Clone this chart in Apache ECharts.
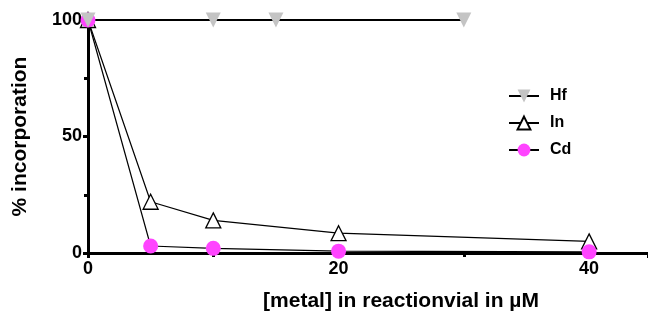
<!DOCTYPE html>
<html><head><meta charset="utf-8">
<script src="https://cdn.jsdelivr.net/npm/echarts@6/dist/echarts.min.js"></script>
<style>html,body{margin:0;padding:0;background:#fff}#c{width:648px;height:320px}</style>
</head><body><div id="c"></div>
<script>
const hfX = [0, 10, 15, 30];
const hfY = [100, 100, 100, 100];
const inX = [0, 5, 10, 20, 40];
const inY = [100, 22, 14, 8.5, 5];
const cdX = [0, 5, 10, 20, 40];
const cdY = [100, 3, 2, 0.8, 0.5];
const xTicks = [0, 20, 40];
const yTicks = [0, 50, 100];
const pair = (xs, ys) => xs.map((x, i) => [x, ys[i]]);
const F = 'Liberation Sans, Arial, sans-serif';
const chart = echarts.init(document.getElementById('c'));
chart.setOption({
  animation: false,
  grid: {left: 88, right: 0, top: 20, bottom: 67, containLabel: false, outerBoundsMode: 'none'},
  legend: {
    data: ['Hf', 'In', 'Cd'], left: 503, top: 83, orient: 'vertical', itemGap: 11,
    itemWidth: 30, itemHeight: 16,
    textStyle: {fontFamily: F, fontWeight: 'bold', fontSize: 16, color: '#000', padding: [0, 0, 0, 6]}
  },
  xAxis: {
    type: 'value', min: 0, max: 44.7, interval: 20,
    axisLine: {lineStyle: {color: '#000', width: 3}},
    axisTick: {length: 5, lineStyle: {width: 3, color: '#000'}},
    minorTick: {show: true, splitNumber: 2, length: 4, lineStyle: {width: 3, color: '#000'}},
    splitLine: {show: false},
    axisLabel: {fontFamily: F, fontWeight: 'bold', fontSize: 18, color: '#000', margin: 7,
      showMaxLabel: false, formatter: v => xTicks.includes(v) ? String(v) : ''},
    name: '[metal] in reactionvial in µM', nameLocation: 'middle', nameGap: 38,
    nameTextStyle: {fontFamily: F, fontWeight: 'bold', fontSize: 21, color: '#000', padding: [0, 0, 0, 66]}
  },
  yAxis: {
    type: 'value', min: 0, max: 100, interval: 50,
    axisLine: {show: true, lineStyle: {color: '#000', width: 3}},
    axisTick: {show: true, length: 5, lineStyle: {width: 3, color: '#000'}},
    minorTick: {show: true, splitNumber: 2, length: 4, lineStyle: {width: 3, color: '#000'}},
    splitLine: {show: false},
    axisLabel: {fontFamily: F, fontWeight: 'bold', fontSize: 18, color: '#000', margin: 6,
      formatter: v => yTicks.includes(v) ? String(v) : ''},
    name: '% incorporation', nameLocation: 'middle', nameGap: 57,
    nameTextStyle: {fontFamily: F, fontWeight: 'bold', fontSize: 21, color: '#000'}
  },
  series: [
    {name: 'In', type: 'line', data: pair(inX, inY), clip: false,
      symbol: 'triangle', symbolSize: 15,
      lineStyle: {color: '#000', width: 1.2},
      itemStyle: {color: '#fff', borderColor: '#000', borderWidth: 1.3}},
    {name: 'Cd', type: 'line', data: pair(cdX, cdY), clip: false,
      symbol: 'circle', symbolSize: 15,
      lineStyle: {color: '#000', width: 1.2},
      itemStyle: {color: '#ff44ff', borderWidth: 0}},
    {name: 'Hf', type: 'line', data: pair(hfX, hfY), clip: false,
      symbol: 'triangle', symbolRotate: 180, symbolSize: 15,
      lineStyle: {color: '#000', width: 2},
      itemStyle: {color: '#c4c4c4', borderWidth: 0}}
  ]
});
</script></body></html>
